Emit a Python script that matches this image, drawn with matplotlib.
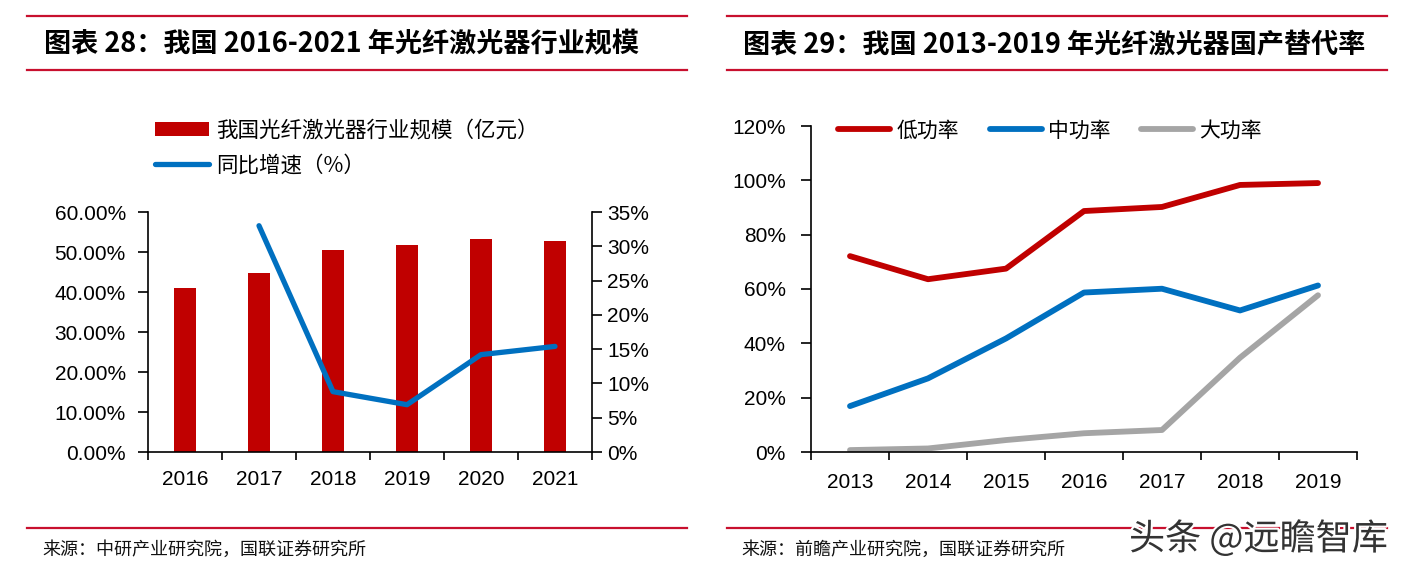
import matplotlib
matplotlib.use('Agg')
import matplotlib.pyplot as plt
from matplotlib.lines import Line2D
from matplotlib.patches import Patch
from matplotlib import font_manager
import matplotlib.patheffects as pe
import numpy as np

# ---------------- data ----------------
years_l = ['2016', '2017', '2018', '2019', '2020', '2021']
scale_vals = [40.9, 44.7, 50.5, 51.7, 53.3, 52.7]          # bars, left axis (%)
growth_years = ['2017', '2018', '2019', '2020', '2021']
growth_vals = [33.0, 8.8, 6.9, 14.2, 15.4]                  # line, right axis (%)
left_ticks = [0, 10, 20, 30, 40, 50, 60]
right_ticks = [0, 5, 10, 15, 20, 25, 30, 35]

years_r = ['2013', '2014', '2015', '2016', '2017', '2018', '2019']
low_power = [72.1, 63.6, 67.5, 88.7, 90.2, 98.3, 99.0]
mid_power = [16.9, 27.1, 41.8, 58.7, 60.1, 52.1, 61.3]
high_power = [0.7, 1.3, 4.4, 6.9, 8.1, 34.7, 57.7]
r_ticks = [0, 20, 40, 60, 80, 100, 120]

title_l = '图表 28：我国 2016-2021 年光纤激光器行业规模'
title_r = '图表 29：我国 2013-2019 年光纤激光器国产替代率'
src_l = '来源：中研产业研究院，国联证券研究所'
src_r = '来源：前瞻产业研究院，国联证券研究所'
leg_bar = '我国光纤激光器行业规模（亿元）'
leg_line = '同比增速（%）'
leg_r = ['低功率', '中功率', '大功率']
watermark = '头条 @远瞻智库'

# ---------------- style ----------------
names = {f.name for f in font_manager.fontManager.ttflist}
num_font = 'Liberation Sans Narrow' if 'Liberation Sans Narrow' in names else 'Liberation Sans'
CJK = 'Noto Sans CJK SC'
RED = '#C00000'
BLUE = '#0070C0'
GRAY = '#A5A5A5'
RULE = '#C8102E'

plt.rcParams['font.family'] = [CJK, 'DejaVu Sans']

W, H = 1404, 570
fig = plt.figure(figsize=(W / 100, H / 100), dpi=100)


def fx(x):
    return x / W


def fy(y):
    return 1 - y / H


# header / footer rules and titles
for x0, x1 in [(27, 687), (727, 1387)]:
    for y in (16, 70, 528):
        fig.add_artist(Line2D([fx(x0), fx(x1)], [fy(y), fy(y)], color=RULE, lw=1.6,
                              transform=fig.transFigure))
fig.text(fx(44), fy(44), title_l, fontsize=19.5, fontweight='bold', va='center', ha='left')
fig.text(fx(743), fy(44), title_r, fontsize=19.5, fontweight='bold', va='center', ha='left')
fig.text(fx(42), fy(550), src_l, fontsize=13, va='center', ha='left', color='#111111')
fig.text(fx(741), fy(550), src_r, fontsize=13, va='center', ha='left', color='#111111')


def style_cat_axis(ax, n):
    ax.set_xlim(-0.5, n - 0.5)
    ax.set_xticks(np.arange(-0.5, n, 1.0))
    ax.set_xticklabels([])
    ax.tick_params(axis='x', which='major', length=6, width=1.2, direction='out')


# ---------------- left chart ----------------
ax1 = fig.add_axes([fx(148), 1 - 452 / H, 444 / W, 240 / H])
xl = np.arange(len(years_l))
ax1.bar(xl, scale_vals, width=0.3, color=RED, zorder=2)
ax1.set_ylim(0, 60)
ax1.set_yticks(left_ticks)
ax1.set_yticklabels([f'{v:.2f}%' for v in left_ticks], fontfamily=num_font, fontsize=15)
style_cat_axis(ax1, len(years_l))
ax1.set_xticks(xl, minor=True)
ax1.set_xticklabels(years_l, minor=True, fontfamily=num_font, fontsize=15)
ax1.tick_params(axis='x', which='minor', length=0, pad=13)
ax1.tick_params(axis='y', length=7, width=1.2, pad=9)
for s in ('top', 'right'):
    ax1.spines[s].set_visible(False)
for s in ('left', 'bottom'):
    ax1.spines[s].set_linewidth(1.2)

ax2 = ax1.twinx()
gx = [years_l.index(y) for y in growth_years]
ax2.plot(gx, growth_vals, color=BLUE, lw=3.8, solid_capstyle='round', solid_joinstyle='round', zorder=3)
ax2.set_ylim(0, 35)
ax2.set_yticks(right_ticks)
ax2.set_yticklabels([f'{v}%' for v in right_ticks], fontfamily=num_font, fontsize=15)
ax2.tick_params(axis='y', length=7, width=1.2, pad=4)
for s in ('top', 'left', 'bottom'):
    ax2.spines[s].set_visible(False)
ax2.spines['right'].set_linewidth(1.2)

handles_l = [Patch(facecolor=RED, edgecolor='none'),
             Line2D([], [], color=BLUE, lw=3.8, solid_capstyle='round')]
fig.legend(handles_l, [leg_bar, leg_line], loc='upper left',
           bbox_to_anchor=(fx(136), fy(100)), frameon=False, fontsize=15.5,
           handlelength=2.5, handleheight=0.6, handletextpad=0.3, labelspacing=0.6)

# ---------------- right chart ----------------
ax3 = fig.add_axes([fx(811), 1 - 452 / H, 546 / W, 326 / H])
xr = np.arange(len(years_r))
for vals, col in [(low_power, RED), (mid_power, BLUE), (high_power, GRAY)]:
    ax3.plot(xr, vals, color=col, lw=4.2, solid_capstyle='round', solid_joinstyle='round')
ax3.set_ylim(0, 120)
ax3.set_yticks(r_ticks)
ax3.set_yticklabels([f'{v}%' for v in r_ticks], fontfamily=num_font, fontsize=15)
style_cat_axis(ax3, len(years_r))
ax3.set_xticks(xr, minor=True)
ax3.set_xticklabels(years_r, minor=True, fontfamily=num_font, fontsize=15)
ax3.tick_params(axis='x', which='minor', length=0, pad=15)
ax3.tick_params(axis='y', length=7, width=1.2, pad=11)
for s in ('top', 'right'):
    ax3.spines[s].set_visible(False)
for s in ('left', 'bottom'):
    ax3.spines[s].set_linewidth(1.2)
ax3.legend(handles=[Line2D([], [], color=c, lw=4.2, solid_capstyle='round') for c in (RED, BLUE, GRAY)],
           labels=leg_r, loc='upper left', bbox_to_anchor=(fx(830), fy(111)),
           bbox_transform=fig.transFigure, ncol=3, frameon=False, fontsize=15,
           handlelength=2.5, handletextpad=0.3, columnspacing=1.45, borderaxespad=0)

# watermark
fig.text(fx(1129), fy(539), watermark, fontsize=26, color='#333333', va='center', ha='left',
         path_effects=[pe.withStroke(linewidth=3, foreground='white')])

fig.savefig('out.png', dpi=100)
